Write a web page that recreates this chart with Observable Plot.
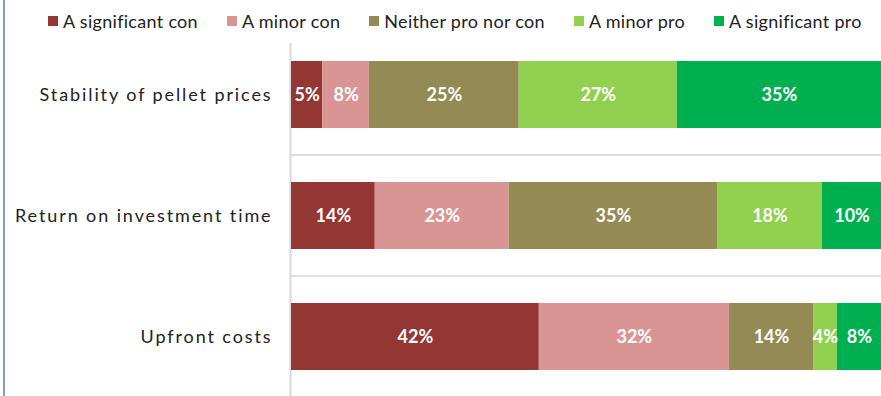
<!DOCTYPE html>
<html>
<head>
<meta charset="utf-8">
<script src="https://cdn.jsdelivr.net/npm/d3@7"></script>
<script src="https://cdn.jsdelivr.net/npm/@observablehq/plot@0.6"></script>
<style>
  html, body { margin: 0; padding: 0; background: #fff; }
  body { width: 881px; height: 396px; position: relative; overflow: hidden; font-family: Lato, "Open Sans", sans-serif; }
  #border { position: absolute; left: 3px; top: 0; width: 2px; height: 396px; background: #7f9fd0; }
  #legend { position: relative; height: 36px; display: flex; align-items: center; padding-left: 48px; gap: 29px; font-size: 18px; letter-spacing: 0.3px; color: #222; }
  .item { display: flex; align-items: center; gap: 5px; white-space: nowrap; padding-top: 6px; }
  .sw { width: 10px; height: 10px; display: inline-block; }
  g[aria-label="y-axis tick label"] { letter-spacing: 1.9px; }
</style>
</head>
<body>
<div id="border"></div>
<div id="legend"></div>
<div id="chart"></div>
<script>
const categories = ["Stability of pellet prices", "Return on investment time", "Upfront costs"];
const groups = ["A significant con", "A minor con", "Neither pro nor con", "A minor pro", "A significant pro"];
const colors = ["#943634", "#d99594", "#948a54", "#92d050", "#00b050"];
// percentage per category, in group order
const stabilityValues = [5.3, 7.9, 25.4, 26.8, 34.6];
const returnValues = [14.2, 22.7, 35.3, 17.8, 10.0];
const upfrontValues = [42.0, 32.2, 14.3, 4.0, 7.5];
const seriesByCategory = [stabilityValues, returnValues, upfrontValues];

const rows = [];
categories.forEach((cat, i) => {
  seriesByCategory[i].forEach((v, j) => rows.push({cat, group: groups[j], value: v}));
});

// legend
const legend = document.getElementById("legend");
groups.forEach((g, j) => {
  const it = document.createElement("div");
  it.className = "item";
  const sw = document.createElement("span");
  sw.className = "sw";
  sw.style.background = colors[j];
  const t = document.createElement("span");
  t.textContent = g;
  it.appendChild(sw); it.appendChild(t);
  legend.appendChild(it);
});

const H = 360;
const pInner = 0.443, pOuter = 0.197;
const step = H / (categories.length - pInner + 2 * pOuter);

const chart = Plot.plot({
  width: 881,
  height: H,
  marginLeft: 291,
  marginRight: 0,
  marginTop: 0,
  marginBottom: 0,
  style: {fontFamily: "Lato, 'Open Sans', sans-serif", background: "transparent"},
  x: {domain: [0, 100], axis: null},
  y: {domain: categories, paddingInner: pInner, paddingOuter: pOuter, label: null},
  color: {domain: groups, range: colors},
  marks: [
    Plot.ruleY(categories.slice(1), {y: d => d, dy: -step / 2, stroke: "#dedede", strokeWidth: 2}),
    Plot.ruleX([0], {stroke: "#d9d9d9", strokeWidth: 2, insetTop: 7, dx: -1}),
    Plot.barX(rows, Plot.stackX({x: "value", y: "cat", fill: "group"})),
    Plot.text(rows, Plot.stackX({x: "value", y: "cat", text: d => Math.round(d.value) + "%", fill: "white", fontWeight: "bold", fontSize: 18})),
    Plot.axisY({tickSize: 0, tickPadding: 19, fontSize: 18, fill: "#222", label: null})
  ]
});
document.getElementById("chart").appendChild(chart);
</script>
</body>
</html>
